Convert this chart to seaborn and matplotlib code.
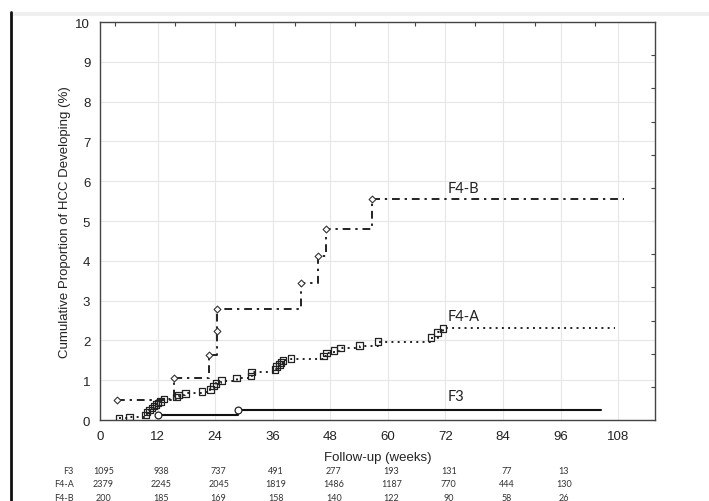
import matplotlib
matplotlib.use("Agg")
import matplotlib.pyplot as plt
import matplotlib.lines as mlines
import matplotlib.patches as mpatches
import numpy as np
import pandas as pd
import seaborn as sns

# ---------------- data ----------------
f3_t = [12.1, 28.8]
f3_v = [0.12, 0.26]
f3_end = 104.5

f4a_t = [4.0, 6.1, 9.5, 9.8, 10.3, 10.8, 11.3, 11.7, 12.1, 12.6, 13.3,
         15.9, 16.4, 17.8, 21.3, 23.0, 23.7, 24.2, 25.3, 28.5, 31.5, 31.6,
         36.5, 36.8, 37.4, 37.7, 38.2, 39.8, 46.6, 47.2, 48.8, 50.1, 54.1,
         58.0, 69.0, 70.4, 71.5]
f4a_v = [0.04, 0.08, 0.12, 0.20, 0.25, 0.30, 0.35, 0.39, 0.43, 0.47, 0.53,
         0.58, 0.63, 0.67, 0.71, 0.77, 0.85, 0.92, 0.99, 1.05, 1.10, 1.20,
         1.27, 1.34, 1.39, 1.44, 1.50, 1.54, 1.61, 1.68, 1.74, 1.81, 1.87,
         1.97, 2.07, 2.20, 2.30]
f4a_end = 107.4

f4b_t = [3.6, 15.5, 22.8, 24.3, 24.4, 41.8, 45.5, 47.1, 56.8]
f4b_v = [0.50, 1.06, 1.64, 2.23, 2.80, 3.45, 4.13, 4.80, 5.55]
f4b_end = 109.2

x_ticks = [0, 12, 24, 36, 48, 60, 72, 84, 96, 108]
y_ticks = list(range(0, 11))

risk_groups = ["F3", "F4-A", "F4-B"]
risk_times = [0, 12, 24, 36, 48, 60, 72, 84, 96]
risk_f3 = [1095, 938, 737, 491, 277, 193, 131, 77, 13]
risk_f4a = [2379, 2245, 2045, 1819, 1486, 1187, 770, 444, 130]
risk_f4b = [200, 185, 169, 158, 140, 122, 90, 58, 26]

# ---------------- style ----------------
sns.set_theme(style="white")
plt.rcParams["font.family"] = ["Liberation Sans", "DejaVu Sans"]

W, H = 709, 502
fig = plt.figure(figsize=(W / 100, H / 100), dpi=100)
ax = fig.add_axes([100 / W, 1 - 421 / H, 555 / W, 398 / H])

def line_df(t, v, end):
    return pd.DataFrame({"t": list(t) + [end], "v": list(v) + [v[-1]]})

# F3 - solid
d3 = line_df(f3_t, f3_v, f3_end)
sns.lineplot(data=d3, x="t", y="v", ax=ax, estimator=None, sort=False,
             drawstyle="steps-post", color="#111111", linewidth=1.5, zorder=3)
sns.scatterplot(x=f3_t, y=f3_v, ax=ax, marker="o", s=24, facecolor="white",
                edgecolor="#222222", linewidth=0.9, zorder=4)

# F4-A - dotted
da = line_df(f4a_t, f4a_v, f4a_end)
sns.lineplot(data=da, x="t", y="v", ax=ax, estimator=None, sort=False,
             drawstyle="steps-post", color="#222222", linewidth=1.4,
             linestyle=(0, (1, 2.2)), zorder=3)
sns.scatterplot(x=f4a_t, y=f4a_v, ax=ax, marker="s", s=22, facecolor="none",
                edgecolor="#222222", linewidth=0.9, zorder=4)

# F4-B - dash-dot
db = line_df(f4b_t, f4b_v, f4b_end)
sns.lineplot(data=db, x="t", y="v", ax=ax, estimator=None, sort=False,
             drawstyle="steps-post", color="#222222", linewidth=1.4,
             linestyle=(0, (4, 2.5, 1.2, 2.5)), zorder=3)
sns.scatterplot(x=f4b_t, y=f4b_v, ax=ax, marker="D", s=12, facecolor="white",
                edgecolor="#333333", linewidth=0.8, zorder=4)

# curve labels
lab_kw = dict(family=["Lato", "DejaVu Sans"], fontsize=10.5, color="#222222",
              ha="left", va="center")
ax.text(72.4, 5.83, "F4-B", **lab_kw)
ax.text(72.4, 2.62, "F4-A", **lab_kw)
ax.text(72.4, 0.60, "F3", **lab_kw)

# axes
ax.set_xlim(0, 115.7)
ax.set_ylim(0, 10)
ax.set_xticks(x_ticks)
ax.set_yticks(y_ticks)
ax.grid(True, color="#e6e6e6", linewidth=0.8)
ax.set_axisbelow(True)
for s in ax.spines.values():
    s.set_color("#444444")
    s.set_linewidth(1.0)
ax.tick_params(axis="both", which="major", direction="out", length=4,
               width=0.8, color="#444444", labelsize=9.5, labelcolor="#222222",
               pad=3)
ax.set_xlabel("Follow-up (weeks)", fontsize=9.5, color="#222222", labelpad=7)
ax.set_ylabel("Cumulative Proportion of HCC Developing (%)", fontsize=9.5,
              color="#222222", labelpad=3)

# secondary inner ticks on top and right
top = ax.secondary_xaxis("top")
top.set_xticks([3.1 + 12.5 * k for k in range(9)])
top.tick_params(direction="in", length=3, width=0.8, color="#444444",
                labeltop=False)
top.spines["top"].set_visible(False)
right = ax.secondary_yaxis("right")
right.set_yticks([k * 10 / 12 for k in range(1, 12)])
right.tick_params(direction="in", length=3, width=0.8, color="#444444",
                  labelright=False)
right.spines["right"].set_visible(False)

# risk table
tab_kw = dict(family=["Lato", "DejaVu Sans"], fontsize=6.5, color="#333333",
              va="center")
rows = [risk_f3, risk_f4a, risk_f4b]
row_y = [471, 485, 498.5]
for name, vals, py in zip(risk_groups, rows, row_y):
    fy = 1 - py / H
    fig.text(74 / W, fy, name, ha="right", **tab_kw)
    for t, n in zip(risk_times, vals):
        xd = ax.transData.transform((t, 0))[0]
        xf = fig.transFigure.inverted().transform((xd, 0))[0]
        fig.text(xf + 3.5 / W, fy, str(n), ha="center", **tab_kw)

# screenshot frame artefacts
fig.add_artist(mpatches.Rectangle((12 / W, 1 - 17 / H), 1, 4 / H,
                                  transform=fig.transFigure, color="#efefef",
                                  linewidth=0, zorder=0))
fig.add_artist(mlines.Line2D([11 / W, 11 / W], [0, 1 - 13 / H],
                             transform=fig.transFigure, color="#111111",
                             linewidth=2.0))

fig.savefig("out.png", dpi=100)
